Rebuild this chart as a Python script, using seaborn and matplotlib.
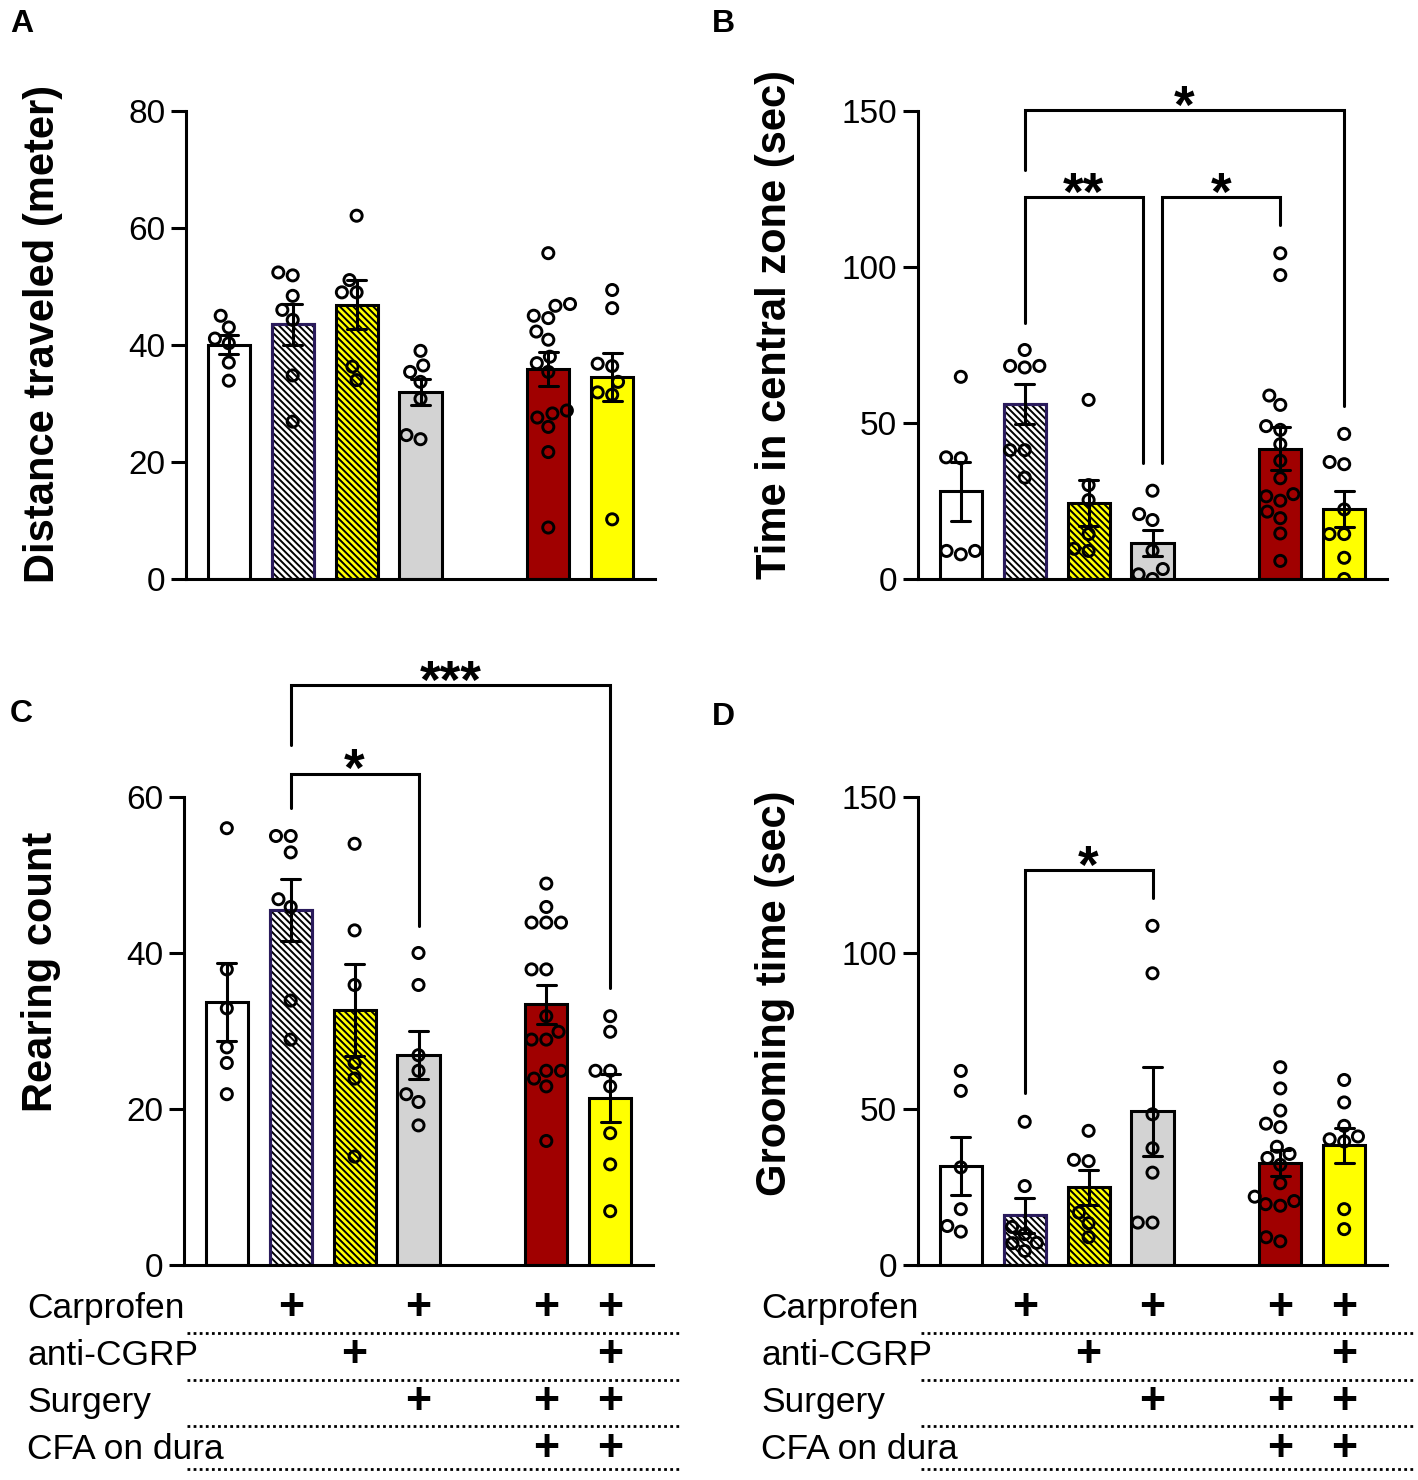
import pandas as pd
import matplotlib
matplotlib.use("Agg")
import matplotlib.pyplot as plt
import matplotlib.transforms as mtransforms
from matplotlib.patches import Rectangle
import seaborn as sns

# group positions on the x axis (gap between group 4 and 5)
positions = [0, 1, 2, 3, 5, 6]
bar_colors = ["white", "white", "#ffff00", "#d3d3d3", "#a00000", "#ffff00"]
bar_edges = ["black", "#2a1b5c", "black", "black", "black", "black"]
bar_hatch = [None, "\\\\\\\\\\", "\\\\\\\\\\", None, None, None]

# A - distance traveled (meter)
dist_pts = [
    [45.0, 43.0, 41.1, 40.3, 37.0, 33.9],
    [52.4, 51.9, 48.4, 46.0, 44.3, 34.8, 26.9],
    [62.1, 51.1, 49.0, 49.0, 36.3, 34.0],
    [39.0, 36.5, 35.4, 33.7, 30.8, 24.6, 23.9],
    [55.7, 47.0, 46.7, 45.0, 44.6, 42.3, 40.9, 38.0, 36.9, 35.4, 28.8, 28.3, 27.6, 26.0, 21.7, 8.8],
    [49.4, 46.3, 36.8, 36.4, 33.7, 31.9, 31.5, 10.2],
]

# B - time in central zone (sec)
center_pts = [
    [64.8, 39.0, 38.7, 9.0, 9.0, 7.9],
    [73.4, 68.3, 67.8, 68.3, 41.3, 41.3, 32.5],
    [57.4, 30.1, 25.3, 14.4, 9.7, 9.0],
    [28.3, 20.8, 18.9, 9.1, 3.2, 1.5, 0.0],
    [104.4, 97.4, 58.8, 55.8, 49.0, 47.8, 43.2, 37.9, 32.3, 27.2, 26.5, 25.1, 21.6, 19.5, 14.6, 5.8],
    [46.5, 37.5, 36.8, 22.3, 14.4, 14.4, 6.8, 0.0],
]

# C - rearing count
rearing_pts = [
    [56.0, 37.9, 32.9, 27.9, 25.9, 21.9],
    [55.0, 55.0, 52.9, 46.9, 45.9, 33.9, 28.9],
    [54.0, 42.9, 35.9, 25.9, 23.9, 13.9],
    [40.0, 35.9, 26.9, 24.9, 21.9, 20.9, 17.9],
    [48.9, 45.9, 43.9, 43.9, 43.9, 37.9, 37.9, 31.9, 29.9, 28.9, 28.9, 24.9, 24.9, 23.9, 22.9, 15.9],
    [31.9, 29.9, 24.9, 24.9, 22.9, 16.9, 12.9, 6.9],
]

# D - grooming time (sec)
groom_pts = [
    [62.2, 55.8, 31.3, 17.9, 12.5, 10.7],
    [45.9, 25.3, 12.2, 9.9, 7.1, 7.0, 4.5],
    [43.0, 33.7, 33.3, 16.8, 13.4, 8.9],
    [108.7, 93.5, 48.3, 37.4, 29.6, 13.6, 13.6],
    [63.4, 56.6, 49.5, 45.3, 44.2, 37.9, 35.6, 34.3, 32.1, 26.2, 21.9, 20.5, 19.5, 19.0, 8.9, 7.6],
    [59.3, 52.1, 44.6, 41.2, 40.3, 39.6, 17.9, 11.5],
]

# significance brackets: (x1, x2, y, y1_end, y2_end, text)
center_sig = [
    (1, 6, 150.3, 131.1, 55.4, "*"),
    (1, 2.85, 122.3, 82.1, 37.2, "**"),
    (3.15, 5, 122.3, 37.2, 113.5, "*"),
]
rearing_sig = [
    (1, 6, 74.3, 66.7, 35.5, "***"),
    (1, 3, 63.0, 58.6, 43.5, "*"),
]
groom_sig = [
    (1, 3, 126.6, 55.1, 117.6, "*"),
]

# treatment table under C and D
table_rows = ["Carprofen", "anti-CGRP", "Surgery", "CFA on dura"]
carprofen = [0, 1, 0, 1, 1, 1]
anti_cgrp = [0, 0, 1, 0, 0, 1]
surgery = [0, 0, 0, 1, 1, 1]
cfa = [0, 0, 0, 0, 1, 1]
table_flags = [carprofen, anti_cgrp, surgery, cfa]

sns.set_style("ticks")
plt.rcParams["font.family"] = ["Liberation Sans", "DejaVu Sans"]
plt.rcParams["hatch.linewidth"] = 1.4
plt.rcParams["text.color"] = "black"
plt.rcParams["axes.labelcolor"] = "black"
plt.rcParams["axes.edgecolor"] = "black"
plt.rcParams["ytick.color"] = "black"
plt.rcParams["xtick.color"] = "black"


def to_frame(groups):
    rows = []
    for p, vals in zip(positions, groups):
        for v in vals:
            rows.append({"pos": p, "val": v})
    return pd.DataFrame(rows)


def draw_panel(ax, groups, ymax, yticks, ylabel, label_y, sig):
    df = to_frame(groups)
    sns.barplot(data=df, x="pos", y="val", native_scale=True, orient="x",
                errorbar="se", capsize=0.3, width=0.66, linewidth=2.2,
                err_kws={"color": "black", "linewidth": 2.2}, ax=ax)
    bars = list(ax.patches)
    for patch, fc, ec, h in zip(bars, bar_colors, bar_edges, bar_hatch):
        patch.set_facecolor(fc)
        patch.set_edgecolor("black")
        if h:
            patch.set_hatch(h)
        if ec != "black":
            # coloured outline on top of the black hatch
            ax.add_patch(Rectangle(patch.get_xy(), patch.get_width(), patch.get_height(),
                                   fill=False, edgecolor=ec, lw=2.2, zorder=patch.get_zorder()))
    sns.swarmplot(data=df, x="pos", y="val", native_scale=True, orient="x",
                  color="none", edgecolor="black", linewidth=2.1, size=8, ax=ax)
    ax.set_xlim(-0.67, 6.67)
    ax.set_ylim(0, ymax)
    ax.set_yticks(yticks)
    ax.set_xticks([])
    ax.set_xlabel("")
    ax.set_ylabel(ylabel, fontsize=30, fontweight="bold")
    ax.yaxis.set_label_coords(-0.262, label_y)
    ax.tick_params(axis="y", length=11, width=2.2, labelsize=24, pad=4)
    for s in ["top", "right"]:
        ax.spines[s].set_visible(False)
    for s in ["left", "bottom"]:
        ax.spines[s].set_linewidth(2.2)
    for x1, x2, y, e1, e2, txt in sig:
        ax.plot([x1, x1, x2, x2], [e1, y, y, e2], color="black", lw=2.2,
                clip_on=False, solid_joinstyle="miter")
        ax.annotate(txt, xy=((x1 + x2) / 2, y), xytext=(0, -9),
                    textcoords="offset points", ha="center", va="baseline",
                    fontsize=38, fontweight="bold", annotation_clip=False)


def draw_table(ax):
    trans = mtransforms.blended_transform_factory(ax.transData, ax.transAxes)
    text_y = [-0.092, -0.194, -0.293, -0.395]
    line_y = [-0.145, -0.245, -0.344, -0.436]
    for name, flags, ty, ly in zip(table_rows, table_flags, text_y, line_y):
        ax.text(-0.334, ty, name, transform=ax.transAxes, ha="left", va="center",
                fontsize=25.5)
        for p, f in zip(positions, flags):
            if f:
                ax.text(p, ty, "+", transform=trans, ha="center", va="center",
                        fontsize=32, fontweight="bold")
        ax.plot([0.006, 1.057], [ly, ly], transform=ax.transAxes, color="black",
                lw=2.0, ls=(0, (1, 1.2)), clip_on=False)


fig = plt.figure(figsize=(14.18, 14.8), dpi=100)
w, h = 469 / 1418, 468 / 1480
ax_a = fig.add_axes([186 / 1418, 1 - 579 / 1480, w, h])
ax_b = fig.add_axes([918 / 1418, 1 - 579 / 1480, w, h])
ax_c = fig.add_axes([184 / 1418, 1 - 1265 / 1480, w, h])
ax_d = fig.add_axes([918 / 1418, 1 - 1265 / 1480, w, h])

draw_panel(ax_a, dist_pts, 80, [0, 20, 40, 60, 80], "Distance traveled (meter)", 0.523, [])
draw_panel(ax_b, center_pts, 150, [0, 50, 100, 150], "Time in central zone (sec)", 0.543, center_sig)
draw_panel(ax_c, rearing_pts, 60, [0, 20, 40, 60], "Rearing count", 0.626, rearing_sig)
draw_panel(ax_d, groom_pts, 150, [0, 50, 100, 150], "Grooming time (sec)", 0.581, groom_sig)

draw_table(ax_c)
draw_table(ax_d)

for letter, x, y in [("A", 0.007, 0.994), ("B", 0.502, 0.994), ("C", 0.007, 0.528), ("D", 0.502, 0.526)]:
    fig.text(x, y, letter, fontsize=23, fontweight="bold", va="top", ha="left")

fig.savefig("out.png", dpi=100)
